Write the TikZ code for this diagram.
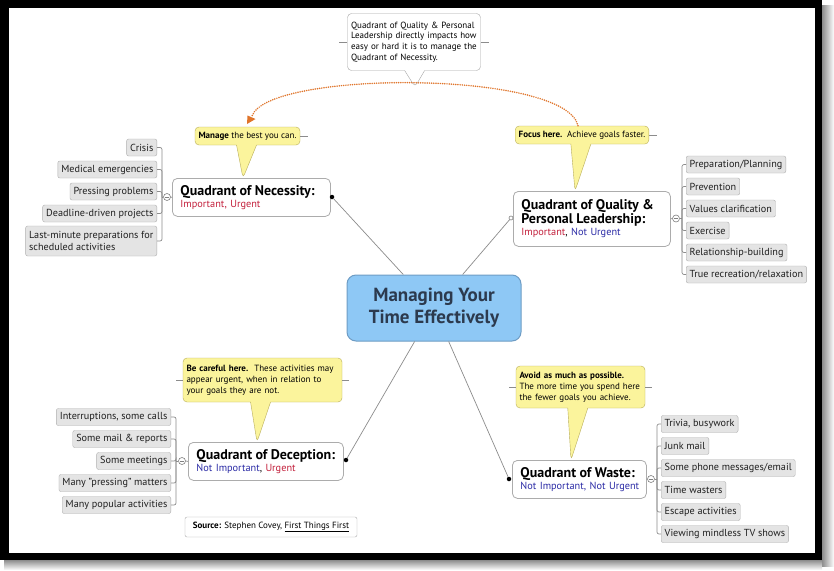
\documentclass[tikz,border=0pt]{standalone}
\usepackage{fontspec}
\setmainfont{PT Sans}
\usetikzlibrary{shapes.callouts,arrows.meta,calc}
\definecolor{impred}{HTML}{C3203C}
\definecolor{nublue}{HTML}{2B2BA6}
\definecolor{calloutfill}{HTML}{FBF49C}
\definecolor{calloutdraw}{HTML}{B9AE5A}
\definecolor{childfill}{HTML}{E4E4E4}
\definecolor{childdraw}{HTML}{AFAFAF}
\definecolor{cenfill}{HTML}{8EC8F5}
\definecolor{cendraw}{HTML}{6E9CC4}
\definecolor{centext}{HTML}{2C3A4E}
\definecolor{connc}{HTML}{8C8C8C}
\definecolor{dotorange}{HTML}{E0742A}
\newcommand{\qt}[1]{\mbox{\fontsize{14}{16}\selectfont\bfseries #1}}
\begin{document}
\begin{tikzpicture}[x=1pt,y=-1pt,
  childbox/.style={draw=childdraw, fill=childfill, rounded corners=2pt,
    font=\fontsize{10.2}{11.5}\selectfont, text=black!88, inner xsep=3.5pt,
    inner ysep=0pt, minimum height=17pt},
  childL/.style={childbox, anchor=east},
  childR/.style={childbox, anchor=west},
  quad/.style={draw=gray!65, fill=white, rounded corners=5pt, line width=0.8pt,
    inner xsep=8pt, inner ysep=3pt, align=left, anchor=north west,
    font=\fontsize{10.3}{12}\selectfont},
  note/.style={rectangle callout, draw=calloutdraw, fill=calloutfill,
    rounded corners=4pt, font=\fontsize{9}{10.8}\selectfont, align=left,
    inner xsep=3.5pt, inner ysep=2pt, callout pointer width=20pt, text=black},
  wnote/.style={note, draw=gray!70, fill=white},
  conn/.style={draw=connc, line width=0.7pt},
  bracket/.style={conn, rounded corners=2pt},
  collapse/.style={circle, draw=gray, fill=white, minimum size=7pt, inner sep=0pt, line width=0.6pt},
  blackdot/.style={circle, fill=black, minimum size=4.5pt, inner sep=0pt},
  opendot/.style={circle, draw=gray, fill=white, minimum size=4pt, inner sep=0pt, line width=0.6pt},
  cen/.style={draw=cendraw, fill=cenfill, rounded corners=9pt, line width=1pt,
    minimum width=174pt, minimum height=66pt, align=center, text=centext,
    font=\fontsize{19}{22}\selectfont\bfseries},
  orangedots/.style={draw=dotorange, line width=1.7pt, line cap=round,
    dash pattern=on 0pt off 2.2pt}
]
\useasboundingbox (0,0) rectangle (834,570);
\fill[white] (0,0) rectangle (834,570);
% frame and shadow
\shade[left color=black!45, right color=white] (822,5) rectangle (834,566);
\shade[top color=black!45, bottom color=white] (4,560) rectangle (822,570);
\fill[black] (0,0) rectangle (822,560);
\fill[white] (9,8) rectangle (815,553);

% central
\node[cen] (cen) at (434,308) {Managing Your\\Time Effectively};

% quadrants
\node[quad, text width=142pt, minimum height=38pt] (nec) at (172,178)
  {\qt{Quadrant of Necessity:}\\
   \textcolor{impred}{Important, Urgent}};
\node[quad, text width=141pt, minimum height=55pt] (qual) at (513,191)
  {\qt{Quadrant of Quality \&}\\
   \qt{Personal Leadership:}\\
   \textcolor{impred}{Important}, \textcolor{nublue}{Not Urgent}};
\node[quad, text width=139pt, minimum height=38pt] (dec) at (188,442)
  {\qt{Quadrant of Deception:}\\
   \textcolor{nublue}{Not Important}, \textcolor{impred}{Urgent}};
\node[quad, text width=118pt, minimum height=38pt] (waste) at (512,460)
  {\qt{Quadrant of Waste:}\\
   \mbox{\textcolor{nublue}{Not Important, Not Urgent}}};

% dots and main connectors
\node[blackdot] (necdot) at (332,197) {};
\node[opendot] (qualdot) at (511,218) {};
\node[blackdot] (decdot) at (346,460) {};
\node[blackdot] (wastedot) at (509,479) {};
\draw[conn] (necdot) -- (cen);
\draw[conn] (qualdot) -- (cen);
\draw[conn] (decdot) -- (cen);
\draw[conn] (wastedot) -- (cen);

% callouts
\node[wnote, text width=126pt, minimum height=57pt,
  callout absolute pointer={(415,87)}] (top) at (414,42)
  {Quadrant of Quality \& Personal\\Leadership directly impacts how\\easy or hard it is to manage the\\Quadrant of Necessity.};
\draw[conn] (top.east) -- ++(8,0);
\draw[conn] (top.west) -- ++(-8,0);

\node[note, minimum height=18pt, callout absolute pointer={(243,178)}] (manage) at (247.5,136)
  {\textbf{Manage} the best you can.};
\draw[conn] (manage.east) -- ++(8,0);

\node[note, minimum height=18pt, callout absolute pointer={(575,191)}] (focus) at (582,135)
  {\textbf{Focus here.}\ \ Achieve goals faster.};
\draw[conn] (focus.east) -- ++(8,0);

\node[note, text width=152pt, minimum height=44pt, callout absolute pointer={(257,442)}] (careful) at (262.5,380)
  {\textbf{Be careful here.}\ \ These activities may\\appear urgent, when in relation to\\your goals they are not.};
\draw[conn] (careful.east) -- ++(7,0);
\draw[conn] (careful.west) -- ++(-7,0);

\node[note, text width=122pt, minimum height=42pt, callout absolute pointer={(571,460)}] (avoid) at (580.5,387)
  {\textbf{Avoid as much as possible.}\\The more time you spend here\\the fewer goals you achieve.};
\draw[conn] (avoid.east) -- ++(7,0);
\draw[conn] (avoid.west) -- ++(-7,0);

% orange dotted relation
\draw[orangedots] ($(focus.north)+(-4,0)$) .. controls (566,70) and (268,70) .. (252,116);
\fill[dotorange] (247,124) -- (247.5,115.5) -- (255.5,119) -- cycle;

% Necessity children
\node[childL] (n1) at (157,147.5) {Crisis};
\node[childL] (n2) at (157,169.5) {Medical emergencies};
\node[childL] (n3) at (157,191.5) {Pressing problems};
\node[childL] (n4) at (157,213.5) {Deadline-driven projects};
\node[childL, align=left, minimum height=30pt] (n5) at (157,241) {Last-minute preparations for\\scheduled activities};
\coordinate (nbr) at (162,197);
\foreach \c in {n1,n2,n3,n4,n5} \draw[bracket] (\c.east) -| (nbr);
\node[collapse] (ncol) at (167,197) {};
\draw[conn] (nbr) -- (ncol.west);
\draw[conn] (ncol.east) -- (nec.west);
\draw[line width=0.6pt, gray] ($(ncol)+(-1.8,0)$) -- ($(ncol)+(1.8,0)$);

% Quality children
\node[childR] (q1) at (686,164.5) {Preparation/Planning};
\node[childR] (q2) at (686,186.5) {Prevention};
\node[childR] (q3) at (686,208.5) {Values clarification};
\node[childR] (q4) at (686,230.5) {Exercise};
\node[childR] (q5) at (686,252.5) {Relationship-building};
\node[childR] (q6) at (686,274.5) {True recreation/relaxation};
\coordinate (qbr) at (682,218.5);
\foreach \c in {q1,q2,q3,q4,q5,q6} \draw[bracket] (\c.west) -| (qbr);
\node[collapse] (qcol) at (676,218.5) {};
\draw[conn] (qbr) -- (qcol.east);
\draw[conn] (qcol.west) -- (qual.east);
\draw[line width=0.6pt, gray] ($(qcol)+(-1.8,0)$) -- ($(qcol)+(1.8,0)$);

% Deception children
\node[childL] (d1) at (171,417) {Interruptions, some calls};
\node[childL] (d2) at (171,439) {Some mail \& reports};
\node[childL] (d3) at (171,461) {Some meetings};
\node[childL] (d4) at (171,483) {Many "pressing" matters};
\node[childL] (d5) at (171,505) {Many popular activities};
\coordinate (dbr) at (176,461);
\foreach \c in {d1,d2,d3,d4,d5} \draw[bracket] (\c.east) -| (dbr);
\node[collapse] (dcol) at (182,461) {};
\draw[conn] (dbr) -- (dcol.west);
\draw[conn] (dcol.east) -- (dec.west);
\draw[line width=0.6pt, gray] ($(dcol)+(-1.8,0)$) -- ($(dcol)+(1.8,0)$);

% Waste children
\node[childR] (w1) at (661,424) {Trivia, busywork};
\node[childR] (w2) at (661,446) {Junk mail};
\node[childR] (w3) at (661,468) {Some phone messages/email};
\node[childR] (w4) at (661,490) {Time wasters};
\node[childR] (w5) at (661,512) {Escape activities};
\node[childR] (w6) at (661,534) {Viewing mindless TV shows};
\coordinate (wbr) at (657,479);
\foreach \c in {w1,w2,w3,w4,w5,w6} \draw[bracket] (\c.west) -| (wbr);
\node[collapse] (wcol) at (651,479) {};
\draw[conn] (wbr) -- (wcol.east);
\draw[conn] (wcol.west) -- (waste.east);
\draw[line width=0.6pt, gray] ($(wcol)+(-1.8,0)$) -- ($(wcol)+(1.8,0)$);

% source
\node[draw=gray!65, fill=white, rounded corners=2pt, minimum width=172pt, minimum height=20pt,
  font=\fontsize{9}{10.5}\selectfont] (src) at (271,527)
  {\textbf{Source:} Stephen Covey, \underline{First Things First}};
\end{tikzpicture}
\end{document}
